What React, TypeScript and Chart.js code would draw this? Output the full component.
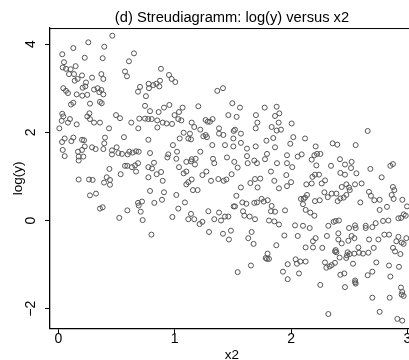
import React, { useEffect, useRef } from "react";
import { Chart, registerables } from "chart.js";

Chart.register(...registerables);

const chartTitle = "(d) Streudiagramm: log(y) versus x2";
const xAxisTitle = "x2";
const yAxisTitle = "log(y)";
const xTickValues = [0, 1, 2, 3];
const xTickLabels = ["0", "1", "2", "3"];
const yTickValues = [-2, 0, 2, 4];
const yTickLabels = ["\u22122", "0", "2", "4"];

const x2Values = [
  0.464, 0.258, 0.129, 0.395, 0.034, 0.227, 0.381, 0.049, 0.038, 0.066, 0.106, 0.149, 0.135, 0.092, 0.166, 0.141,
  0.204, 0.29, 0.37, 0.387, 0.573, 0.59, 0.607, 0.65, 0.882, 0.951, 0.043, 0.066, 0.083, 0.158, 0.209, 0.232,
  0.238, 0.206, 0.249, 0.307, 0.338, 0.37, 0.352, 0.387, 0.272, 0.109, 0.129, 0.358, 0.373, 0.702, 0.685, 0.753,
  0.779, 0.776, 0.816, 0.842, 0.874, 0.868, 0.745, 0.788, 0.862, 0.908, 0.954, 0.034, 0.043, 0.029, 0.1, 0.083,
  0.158, 0.267, 0.249, 0.272, 0.307, 0.358, 0.496, 0.53, 0.627, 0.696, 0.745, 0.773, 0.802, 0.85, 0.897, 0.931,
  0.974, 1.005, 1.366, 1.415, 1.495, 1.561, 1.461, 1.532, 1.698, 1.71, 1.773, 1.876, 1.862, 1.899, 1.893, 1.203,
  1.068, 1.037, 0.999, 1.031, 1.057, 0.977, 1.146, 1.266, 1.283, 1.303, 1.326, 2.005,
  0.009, 0.436, 0.687, 0.851, 0.055, 0.032, 0.112, 0.129, 0.204, 0.221, 0.401, 0.395, 0.564, 0.774, 0.038, 0.169,
  0.204, 0.227, 0.29, 0.321, 0.387, 0.461, 0.501, 0.516, 0.547, 0.461, 0.596, 0.61, 0.639, 0.668, 0.691, 0.788,
  0.945, 0.937, 0.055, 0.175, 0.215, 0.175, 0.573, 0.593, 0.633, 0.659, 0.685, 0.668, 0.774, 0.805, 0.822, 0.845,
  0.883, 0.439, 0.536, 0.175, 0.264, 0.295, 0.393, 0.416, 0.444, 0.444, 0.774, 0.897, 0.272, 0.324, 0.788, 0.908,
  0.891, 0.825, 0.358, 0.381, 0.593, 0.685, 0.719, 0.691, 0.708, 0.524, 0.725, 0.8,
  1.168, 1.22, 1.381, 1.518, 1.507, 1.696, 1.833, 1.913, 1.077, 1.131, 1.043, 1.117, 1.14, 1.246, 1.266, 1.277,
  1.381, 1.418, 1.569, 1.504, 1.569, 1.788, 1.847, 1.876, 0.985, 1.02, 1.22, 1.323, 1.432, 1.504, 1.621, 1.621,
  1.696, 1.793, 1.862, 1.965, 1.014, 1.1, 1.146, 1.14, 1.18, 1.174, 1.329, 1.34, 1.449, 1.512, 1.627, 1.684,
  1.707, 1.776, 1.879, 1.965, 1.541, 1.037, 1.1, 1.077, 1.272, 1.238, 1.489, 1.827, 1.959, 1.117, 1.1, 1.146,
  1.312, 1.375, 1.421, 1.444, 1.65, 1.69, 1.735, 1.856, 1.157, 1.197, 1.014, 1.088, 1.031, 1.289, 1.569, 1.712,
  1.896, 1.965, 1.53, 1.581, 1.616, 1.684, 1.707, 1.747, 1.765, 1.799, 1.833, 1.827, 1.862, 1.948, 1.507, 1.518,
  1.587, 0.98, 1.117, 1.14, 1.168, 1.238, 1.214, 1.34, 1.381, 1.398, 1.432, 1.461, 1.598, 1.644, 1.69, 1.81,
  1.856, 1.896,
  1.295, 1.415, 1.483, 1.466, 1.632, 1.661, 1.678, 1.942, 1.873, 1.798, 1.793, 1.81, 1.782, 1.655, 1.541, 1.971,
  1.93, 1.971,
  2.658, 2.019, 1.993, 2.12, 2.211, 2.357, 2.397, 2.555, 2.057, 2.091, 2.177, 2.2, 2.223, 2.252, 2.01, 2.217,
  2.343, 2.42, 2.463, 2.52, 2.515, 2.561, 2.681, 2.853, 2.875, 2.423, 2.463, 2.0, 2.131, 2.177, 2.183, 2.205,
  2.24, 2.263, 2.292, 2.435, 2.475, 2.498, 2.504, 2.549, 2.606, 2.669, 2.686, 2.715, 2.761, 2.778, 2.875, 2.887,
  2.864, 2.881, 2.956, 2.996, 2.085, 2.108, 2.12, 2.137, 2.102, 2.125, 2.165, 2.2, 2.205, 2.246, 2.286, 2.315,
  2.349, 2.389, 2.4, 2.423, 2.452, 2.475, 2.595, 2.761, 2.824, 2.034, 2.102, 2.32, 2.366, 2.383, 2.411, 2.549,
  2.641, 2.727, 2.79, 2.836, 2.922, 2.968, 2.945, 2.985,
  2.16, 2.498, 2.555, 2.641, 2.698, 2.057, 2.211, 2.188, 2.188, 2.125, 2.308, 2.406, 2.406, 2.435, 2.492, 2.52,
  2.544, 2.67, 2.75, 2.801, 2.842, 2.922, 2.904, 2.95, 2.99, 2.967, 2.876, 2.893, 2.939, 2.268, 2.383, 2.377,
  2.389, 2.486, 2.48, 2.503, 2.543, 2.578, 2.584, 2.618, 2.664, 2.71, 2.039, 2.05, 2.079, 2.125, 2.068, 2.291,
  2.303, 2.331, 2.349, 2.377, 2.417, 2.474, 2.532, 2.732, 2.841, 2.927, 2.423, 2.457, 2.658, 2.698, 2.853, 2.55,
  2.55, 2.555, 2.251, 2.463, 2.944, 2.955, 2.95, 2.967, 2.698, 2.847, 2.761, 2.32, 2.913, 2.955,
];

const logYValues = [
  4.19, 4.04, 3.91, 3.94, 3.77, 3.69, 3.68, 3.59, 3.47, 3.44, 3.43, 3.5, 3.32, 3.32, 3.21, 3.17,
  3.29, 3.24, 3.32, 3.21, 3.38, 3.27, 3.61, 3.79, 3.44, 3.3, 3.0, 2.94, 2.89, 2.86, 3.01, 3.04,
  3.13, 2.83, 2.85, 2.97, 3.0, 2.96, 2.91, 2.86, 2.65, 2.63, 2.67, 2.69, 2.66, 3.03, 2.92, 2.82,
  3.0, 3.1, 3.07, 3.1, 3.17, 3.04, 2.6, 2.48, 2.46, 2.56, 2.62, 2.42, 2.36, 2.26, 2.3, 2.22,
  2.18, 2.43, 2.36, 2.3, 2.22, 2.22, 2.39, 2.32, 2.22, 2.31, 2.31, 2.3, 2.3, 2.27, 2.22, 2.2,
  3.21, 3.14, 2.94, 3.0, 2.66, 2.56, 2.39, 2.35, 2.39, 2.22, 2.56, 2.58, 2.37, 2.43, 2.22, 2.59,
  2.56, 2.46, 2.39, 2.3, 2.27, 2.19, 2.22, 2.28, 2.24, 2.24, 2.3, 2.2,
  2.09, 2.09, 2.09, 2.11, 1.86, 1.78, 1.8, 1.88, 1.83, 1.82, 1.88, 1.75, 1.89, 1.83, 1.6, 1.56,
  1.6, 1.68, 1.66, 1.62, 1.62, 1.59, 1.66, 1.53, 1.51, 1.5, 1.5, 1.56, 1.54, 1.57, 1.56, 1.53,
  1.5, 1.43, 1.46, 1.45, 1.45, 1.36, 1.24, 1.24, 1.21, 1.25, 1.3, 1.11, 1.21, 1.18, 1.31, 1.05,
  1.1, 1.17, 1.05, 0.93, 0.93, 0.92, 0.86, 0.98, 0.92, 0.81, 0.98, 0.9, 0.57, 0.61, 0.67, 0.64,
  0.47, 0.4, 0.27, 0.3, 0.23, 0.4, 0.43, 0.34, 0.2, 0.06, 0.01, -0.32,
  2.12, 2.06, 2.09, 2.06, 2.03, 2.09, 2.12, 2.06, 1.99, 1.97, 1.86, 1.86, 1.84, 1.91, 1.94, 1.89,
  1.97, 1.94, 1.97, 1.86, 1.76, 1.81, 1.87, 2.04, 1.71, 1.56, 1.56, 1.71, 1.71, 1.68, 1.63, 1.46,
  1.68, 1.51, 1.66, 1.48, 1.4, 1.33, 1.39, 1.34, 1.4, 1.27, 1.4, 1.3, 1.43, 1.33, 1.3, 1.36,
  1.3, 1.39, 1.3, 1.3, 1.2, 1.21, 1.11, 1.07, 1.11, 1.03, 1.05, 1.11, 1.03, 0.87, 0.82, 0.93,
  0.9, 0.94, 0.9, 0.93, 0.85, 0.94, 0.95, 0.9, 0.69, 0.69, 0.58, 0.41, 0.27, 0.21, 0.75, 0.75,
  0.73, 0.78, 0.56, 0.41, 0.38, 0.4, 0.41, 0.49, 0.43, 0.46, 0.33, 0.21, 0.2, 0.23, 0.32, 0.32,
  0.21, 0.08, 0.03, 0.15, 0.03, -0.03, -0.08, 0.03, 0.18, 0.0, 0.09, 0.09, 0.11, 0.09, 0.03, 0.0,
  -0.02, -0.09,
  -0.26, -0.3, -0.23, -0.43, -0.4, -0.26, -0.53, -0.34, -0.56, -0.75, -0.87, -0.87, -0.85, -1.02, -1.17, -0.99,
  -1.16, -1.33,
  2.03, 1.89, 1.74, 1.86, 1.68, 1.75, 1.72, 1.71, 1.45, 1.5, 1.38, 1.48, 1.51, 1.51, 1.21, 1.25,
  1.24, 1.39, 1.27, 1.33, 1.19, 1.07, 1.17, 1.24, 1.28, 1.08, 1.04, 0.87, 0.82, 0.84, 0.99, 1.04,
  1.04, 0.84, 0.91, 0.76, 0.82, 0.75, 0.69, 0.82, 0.84, 0.65, 0.56, 0.46, 0.47, 0.98, 0.76, 0.69,
  0.58, 0.49, 0.47, 0.32, 0.49, 0.49, 0.52, 0.58, 0.37, 0.24, 0.18, 0.11, 0.44, 0.46, 0.64, 0.53,
  0.61, 0.61, 0.44, 0.5, 0.52, 0.58, 0.41, 0.24, 0.31, -0.11, -0.12, -0.12, -0.03, -0.01, 0.0, -0.11,
  -0.12, -0.06, -0.01, 0.0, 0.05, 0.14, 0.06, 0.11,
  -0.17, -0.17, -0.17, -0.17, -0.15, -0.35, -0.4, -0.47, -0.61, -0.61, -0.35, -0.29, -0.43, -0.52, -0.46, -0.35,
  -0.4, -0.43, -0.43, -0.32, -0.32, -0.37, -0.47, -0.5, -0.4, -0.53, -0.62, -0.7, -0.76, -0.62, -0.67, -0.7,
  -0.72, -0.72, -0.79, -0.76, -0.75, -0.61, -0.73, -0.75, -0.73, -0.62, -0.88, -0.98, -0.93, -0.93, -1.2, -0.95,
  -1.07, -1.04, -1.01, -0.96, -0.84, -0.85, -0.98, -0.95, -1.02, -1.05, -1.23, -1.2, -1.24, -1.16, -1.27, -1.36,
  -1.4, -1.43, -1.46, -1.51, -1.52, -1.62, -1.68, -1.71, -1.75, -1.75, -2.07, -2.12, -2.23, -2.27,
];

const FONT = "'Liberation Sans', Arial, Helvetica, sans-serif";

const plotFrame = {
  id: "plotFrame",
  afterDraw(chart: any) {
    const { ctx, chartArea } = chart;
    const { left, top, right, bottom } = chartArea;
    ctx.save();
    ctx.strokeStyle = "#000";
    ctx.lineWidth = 1;
    ctx.beginPath();
    ctx.moveTo(left, top + 0.5);
    ctx.lineTo(right, top + 0.5);
    ctx.moveTo(right - 0.5, top);
    ctx.lineTo(right - 0.5, bottom);
    ctx.stroke();
    ctx.restore();
  },
};

export default function App() {
  const canvasRef = useRef<HTMLCanvasElement | null>(null);

  useEffect(() => {
    const canvas = canvasRef.current;
    if (!canvas) return;
    const points = x2Values.map((x, i) => ({ x, y: logYValues[i] }));
    const chart = new Chart(canvas, {
      type: "scatter",
      data: {
        datasets: [
          {
            data: points,
            pointStyle: "circle",
            pointRadius: 2.5,
            pointBorderWidth: 1,
            pointBorderColor: "#555555",
            pointBackgroundColor: "rgba(0,0,0,0)",
            showLine: false,
          },
        ],
      },
      options: {
        responsive: false,
        animation: false,
        devicePixelRatio: 1,
        layout: { padding: 0 },
        plugins: {
          legend: { display: false },
          tooltip: { enabled: false },
          title: {
            display: true,
            text: chartTitle,
            color: "#000",
            font: { family: FONT, size: 14.7, weight: "normal", lineHeight: 1.2 },
            padding: { top: 9.6, bottom: 0.8 },
          },
        },
        scales: {
          x: {
            type: "linear",
            position: "bottom",
            min: -0.0713,
            max: 3.056,
            afterBuildTicks: (s: any) => {
              s.ticks = xTickValues.map((v) => ({ value: v }));
            },
            ticks: {
              autoSkip: false,
              maxRotation: 0,
              color: "#000",
              padding: -2,
              font: { family: FONT, size: 14, lineHeight: 1 },
              callback: (v: any) => {
                const i = xTickValues.indexOf(Number(v));
                return i >= 0 ? xTickLabels[i] : "";
              },
            },
            grid: {
              display: true,
              drawOnChartArea: false,
              drawTicks: true,
              tickLength: 5,
              color: "#000",
              lineWidth: 1,
            },
            border: { display: true, color: "#000", width: 1.3 },
            title: {
              display: true,
              text: xAxisTitle,
              color: "#000",
              font: { family: FONT, size: 13.5, lineHeight: 1.2 },
              padding: { top: 3, bottom: 0 },
            },
          },
          y: {
            type: "linear",
            position: "left",
            min: -2.455,
            max: 4.364,
            afterBuildTicks: (s: any) => {
              s.ticks = yTickValues.map((v) => ({ value: v }));
            },
            afterFit: (s: any) => {
              s.width = 50;
            },
            ticks: {
              autoSkip: false,
              minRotation: 90,
              maxRotation: 90,
              crossAlign: "center",
              color: "#000",
              padding: 5.5,
              font: { family: FONT, size: 14, lineHeight: 1 },
              callback: (v: any) => {
                const i = yTickValues.indexOf(Number(v));
                return i >= 0 ? yTickLabels[i] : "";
              },
            },
            grid: {
              display: true,
              drawOnChartArea: false,
              drawTicks: true,
              tickLength: 5,
              color: "#000",
              lineWidth: 1,
            },
            border: { display: true, color: "#000", width: 1.3 },
            title: {
              display: true,
              text: yAxisTitle,
              color: "#000",
              font: { family: FONT, size: 13.5, lineHeight: 1.2 },
              padding: { top: 10.2, bottom: 0 },
            },
          },
          yRight: {
            type: "linear",
            position: "right",
            display: true,
            afterFit: (s: any) => {
              s.width = 50;
            },
            ticks: { display: false },
            grid: { display: false },
            border: { display: false },
          },
        },
      },
      plugins: [plotFrame],
    } as any);
    return () => chart.destroy();
  }, []);

  return (
    <div
      style={{
        position: "fixed",
        left: 0,
        top: 0,
        width: 409,
        height: 360,
        overflow: "hidden",
        background: "#fff",
      }}
    >
      <canvas ref={canvasRef} width={464} height={363} style={{ width: 464, height: 363, display: "block" }} />
    </div>
  );
}
